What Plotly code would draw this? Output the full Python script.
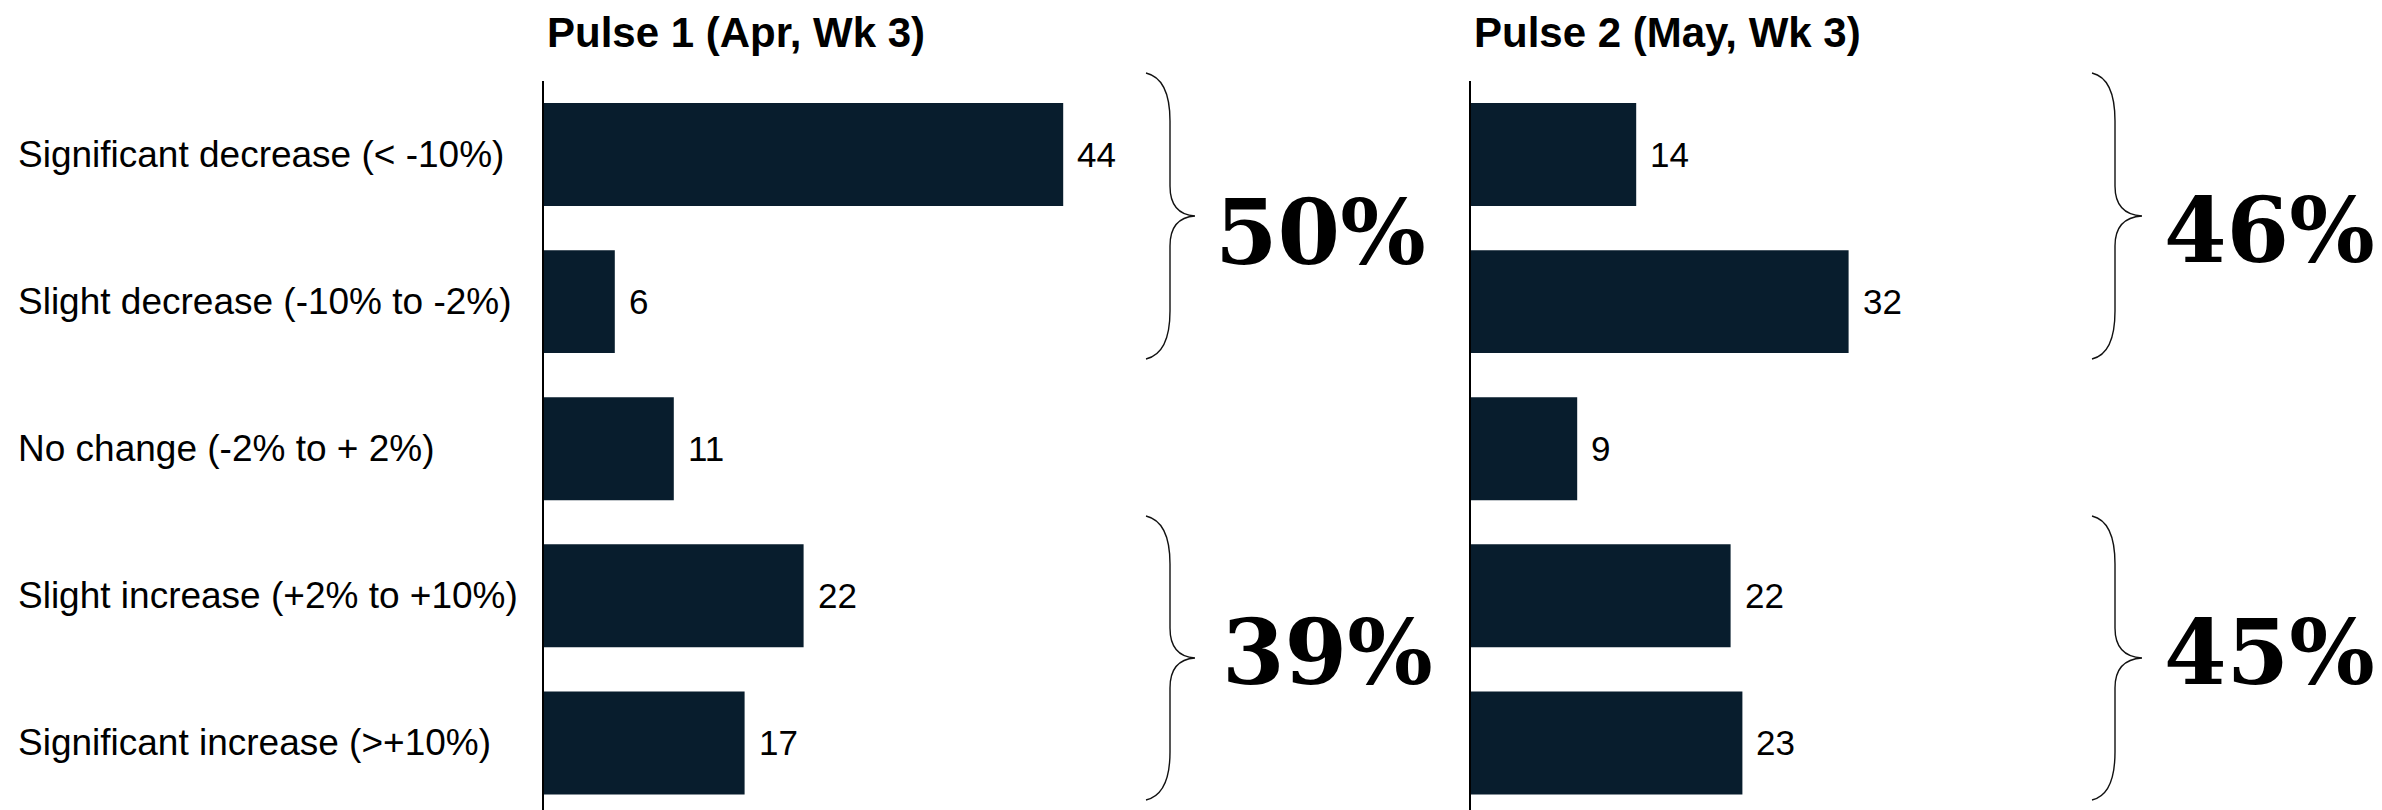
import plotly.graph_objects as go

# Survey responses: expected change, share of respondents (%)
categories = [
    "Significant decrease (< -10%)",
    "Slight decrease (-10% to -2%)",
    "No change (-2% to + 2%)",
    "Slight increase (+2% to +10%)",
    "Significant increase (>+10%)",
]
pulse1 = [44, 6, 11, 22, 17]
pulse2 = [14, 32, 9, 22, 23]
panel_titles = ["Pulse 1 (Apr, Wk 3)", "Pulse 2 (May, Wk 3)"]

W, H = 2382, 810
BAR_COLOR = "#081D2D"
SANS = "Liberation Sans, Arial, sans-serif"
SERIF = "DejaVu Serif, Georgia, serif"

def px_x(p):
    return p / W

def px_y(p):
    return 1 - p / H

ypos = list(range(len(categories)))
XMAX = 50
PANEL_W = 590  # pixels spanned by 0..XMAX
left0, right0 = 544, 1471

fig = go.Figure()
for series, xa, ya in [(pulse1, "x", "y"), (pulse2, "x2", "y2")]:
    fig.add_trace(go.Bar(
        x=series, y=ypos, orientation="h", xaxis=xa, yaxis=ya,
        marker=dict(color=BAR_COLOR, line=dict(width=0)),
        width=0.7, showlegend=False, hoverinfo="x+y",
    ))

annotations = []
# value labels next to each bar
for series, xr, yr in [(pulse1, "x", "y"), (pulse2, "x2", "y2")]:
    for i, v in enumerate(series):
        annotations.append(dict(
            x=v, y=i, xref=xr, yref=yr, text=str(v), showarrow=False,
            xanchor="left", yanchor="middle", xshift=12,
            font=dict(family=SANS, size=35, color="#000000"),
        ))

# category labels, left aligned
for i, c in enumerate(categories):
    annotations.append(dict(
        x=px_x(16), y=i, xref="paper", yref="y", text=c, showarrow=False,
        xanchor="left", yanchor="middle",
        font=dict(family=SANS, size=37, color="#000000"),
    ))

# panel titles
for t, x0 in zip(panel_titles, [left0, right0]):
    annotations.append(dict(
        x=px_x(x0 + 1), y=px_y(32), xref="paper", yref="paper",
        text=f"<b>{t}</b>", showarrow=False, xanchor="left", yanchor="middle",
        font=dict(family=SANS, size=42, color="#000000"),
    ))

# grouped totals: decreases (first two rows) and increases (last two rows)
groups = [
    (sum(pulse1[:2]), 1213, 232),
    (sum(pulse1[3:]), 1220, 652),
    (sum(pulse2[:2]), 2162, 230),
    (sum(pulse2[3:]), 2162, 652),
]
for val, gx, gy in groups:
    annotations.append(dict(
        x=px_x(gx), y=px_y(gy), xref="paper", yref="paper",
        text=f"<b>{val}%</b>", showarrow=False, xanchor="left", yanchor="middle",
        font=dict(family=SERIF, size=90, color="#000000"),
    ))

def brace(x_end, x_stem, x_tip, y_top, y_bot):
    y_tip = (y_top + y_bot) / 2
    pts = [
        f"M {px_x(x_end)},{px_y(y_top)}",
        f"C {px_x(x_end + 17)},{px_y(y_top + 4)} {px_x(x_stem)},{px_y(y_top + 22)} {px_x(x_stem)},{px_y(y_top + 48)}",
        f"L {px_x(x_stem)},{px_y(y_tip - 30)}",
        f"C {px_x(x_stem)},{px_y(y_tip - 10)} {px_x(x_stem + 10)},{px_y(y_tip - 1)} {px_x(x_tip)},{px_y(y_tip)}",
        f"C {px_x(x_stem + 10)},{px_y(y_tip + 1)} {px_x(x_stem)},{px_y(y_tip + 10)} {px_x(x_stem)},{px_y(y_tip + 30)}",
        f"L {px_x(x_stem)},{px_y(y_bot - 48)}",
        f"C {px_x(x_stem)},{px_y(y_bot - 22)} {px_x(x_end + 17)},{px_y(y_bot - 4)} {px_x(x_end)},{px_y(y_bot)}",
    ]
    return dict(type="path", xref="paper", yref="paper", path=" ".join(pts),
                line=dict(color="#111111", width=1.4))

shapes = [
    brace(1146, 1170, 1195, 73, 359),
    brace(1146, 1170, 1195, 516, 800),
    brace(2092, 2115, 2142, 73, 359),
    brace(2092, 2115, 2142, 516, 800),
]

ydomain = [0, px_y(81)]
yrange = [4.456, -0.5]
common_x = dict(range=[0, XMAX], showgrid=False, zeroline=False, showticklabels=False,
                showline=False, ticks="", fixedrange=True)
common_y = dict(range=yrange, domain=ydomain, showgrid=False, zeroline=False,
                showticklabels=False, ticks="", showline=True, linecolor="#000000",
                linewidth=1.5, fixedrange=True)

fig.update_layout(
    width=W, height=H,
    margin=dict(l=0, r=0, t=0, b=0),
    paper_bgcolor="#ffffff", plot_bgcolor="rgba(0,0,0,0)",
    bargap=0.3,
    xaxis=dict(domain=[px_x(left0), px_x(left0 + PANEL_W)], anchor="y", **common_x),
    xaxis2=dict(domain=[px_x(right0), px_x(right0 + PANEL_W)], anchor="y2", **common_x),
    yaxis=dict(anchor="x", **common_y),
    yaxis2=dict(anchor="x2", matches="y", **common_y),
    annotations=annotations,
    shapes=shapes,
)

fig.write_html("out.html")
